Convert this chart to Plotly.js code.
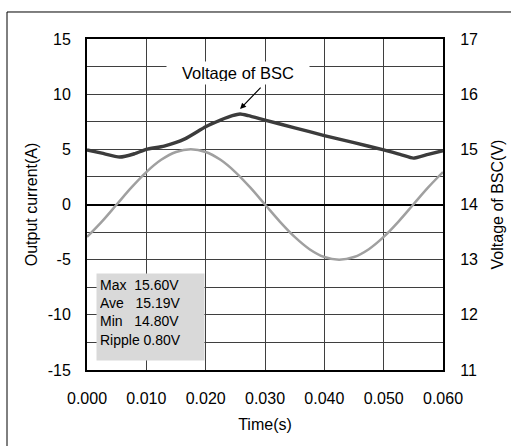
<!DOCTYPE html>
<html>
<head>
<meta charset="utf-8">
<script src="https://cdn.plot.ly/plotly-3.0.1.min.js"></script>
<style>html,body{margin:0;padding:0;background:#fff;}</style>
</head>
<body>
<div id="chart" style="width:511px;height:446px;"></div>
<script>
// Output current (A) sampled on time (s)
const currentTime = [0, 0.0025, 0.005, 0.0075, 0.010, 0.0125, 0.015, 0.0175, 0.020, 0.0225, 0.025, 0.0275, 0.030,
                     0.0325, 0.035, 0.0375, 0.040, 0.0425, 0.045, 0.0475, 0.050, 0.0525, 0.055, 0.0575, 0.060];
const currentVals = [-2.94, -1.55, 0.00, 1.55, 2.94, 4.05, 4.76, 5.00, 4.76, 4.05, 2.94, 1.55, 0.00,
                     -1.55, -2.94, -4.05, -4.76, -5.00, -4.76, -4.05, -2.94, -1.55, 0.00, 1.55, 2.94];

// Voltage of BSC (V)
const voltTime = [0, 0.0025, 0.0055, 0.0080, 0.010, 0.0130, 0.0165, 0.020, 0.0225, 0.0245, 0.0258, 0.0272,
                  0.030, 0.035, 0.040, 0.045, 0.050, 0.053, 0.055, 0.0575, 0.060];
const voltVals = [14.99, 14.93, 14.86, 14.92, 15.00, 15.06, 15.19, 15.41, 15.53, 15.61, 15.64, 15.61,
                  15.53, 15.39, 15.25, 15.12, 14.99, 14.90, 14.84, 14.91, 14.975];

// Tick labels (hyphen minus as in the original)
const currentTicks = [-15, -10, -5, 0, 5, 10, 15];
const currentTickText = ["-15", "-10", "-5", "0", "5", "10", "15"];

// Stats box labels
const statLabels = ["Max", "Ave", "Min", "Ripple"];
const statValues = ["15.60V", "15.19V", "14.80V", "0.80V"];
const statGaps = ["\u00a0\u00a0", "\u00a0\u00a0\u00a0", "\u00a0\u00a0\u00a0", "\u00a0"];

const font = "Arial, 'Liberation Sans', sans-serif";
const gridColor = "#3f3f3f";
const fs = 16;

// peak of voltage for arrow
let pk = 0;
for (let i = 1; i < voltVals.length; i++) if (voltVals[i] > voltVals[pk]) pk = i;

const traces = [
  {
    x: currentTime, y: currentVals, type: "scatter", mode: "lines",
    line: {color: "#a0a0a0", width: 2.5, shape: "spline", smoothing: 1},
    yaxis: "y", hoverinfo: "skip", showlegend: false
  },
  {
    x: voltTime, y: voltVals, type: "scatter", mode: "lines",
    line: {color: "#3c3c3c", width: 3.4, shape: "spline", smoothing: 0.5},
    yaxis: "y2", hoverinfo: "skip", showlegend: false
  }
];

const statText = statLabels.map((l, i) => l + statGaps[i] + statValues[i]).join("<br>");

const layout = {
  width: 511, height: 446,
  margin: {l: 87, r: 68, t: 39, b: 76, pad: 0},
  paper_bgcolor: "#fff", plot_bgcolor: "#fff",
  font: {family: font, size: fs, color: "#000"},
  showlegend: false,
  xaxis: {
    range: [0, 0.06], dtick: 0.01, tick0: 0, tickformat: ".3f",
    showgrid: true, gridcolor: gridColor, gridwidth: 1,
    zeroline: false, showline: true, mirror: true, linecolor: "#000", linewidth: 2,
    ticks: "outside", ticklen: 13, tickcolor: "rgba(0,0,0,0)",
    tickfont: {family: font, size: fs, color: "#000"},
    title: {text: "Time(s)", font: {family: font, size: fs, color: "#000"}, standoff: 13},
    automargin: false,
    fixedrange: true
  },
  yaxis: {
    range: [-15, 15], tickmode: "array", tickvals: currentTicks, ticktext: currentTickText,
    showgrid: true, gridcolor: gridColor, gridwidth: 1,
    minor: {dtick: 2.5, tick0: 0, showgrid: true, gridcolor: gridColor, gridwidth: 1, ticks: ""},
    zeroline: true, zerolinecolor: "#000", zerolinewidth: 2,
    showline: true, mirror: true, linecolor: "#000", linewidth: 2,
    ticks: "outside", ticklen: 11, tickcolor: "rgba(0,0,0,0)",
    tickfont: {family: font, size: fs, color: "#000"},
    title: {text: "Output current(A)", font: {family: font, size: fs, color: "#000"}, standoff: 6},
    automargin: false,
    fixedrange: true
  },
  yaxis2: {
    range: [11, 17], dtick: 1, tick0: 11,
    overlaying: "y", side: "right",
    showgrid: false, zeroline: false, showline: false,
    ticks: "outside", ticklen: 13, tickcolor: "rgba(0,0,0,0)",
    tickfont: {family: font, size: fs, color: "#000"},
    title: {text: "Voltage of BSC(V)", font: {family: font, size: fs, color: "#000"}, standoff: 14},
    automargin: false,
    fixedrange: true
  },
  shapes: [
    {type: "rect", xref: "paper", yref: "paper",
     x0: -0.2247, x1: 1.3, y0: -0.35, y1: 1.0816,
     line: {color: "#000", width: 1}, fillcolor: "rgba(0,0,0,0)", layer: "below"}
  ],
  annotations: [
    {
      xref: "x", yref: "y", x: 0.0255, y: 11.95,
      text: "Voltage of BSC", showarrow: false,
      bgcolor: "#fff", width: 136, height: 16, borderpad: 3,
      font: {family: font, size: 16.5, color: "#000"}
    },
    {
      xref: "x", yref: "y2", x: voltTime[pk], y: voltVals[pk] + 0.09,
      axref: "pixel", ayref: "pixel", ax: 22, ay: -23,
      text: "", showarrow: true, arrowhead: 2, arrowsize: 1, arrowwidth: 1.2, arrowcolor: "#000"
    },
    {
      xref: "paper", yref: "paper", x: 0.0253, y: 0.293,
      xanchor: "left", yanchor: "top",
      text: statText, showarrow: false, align: "left", valign: "top",
      bgcolor: "#d9d9d9", width: 101, height: 80, borderpad: 3,
      font: {family: font, size: 14, color: "#000"}
    }
  ]
};

Plotly.newPlot("chart", traces, layout, {staticPlot: true, displayModeBar: false});
</script>
</body>
</html>
